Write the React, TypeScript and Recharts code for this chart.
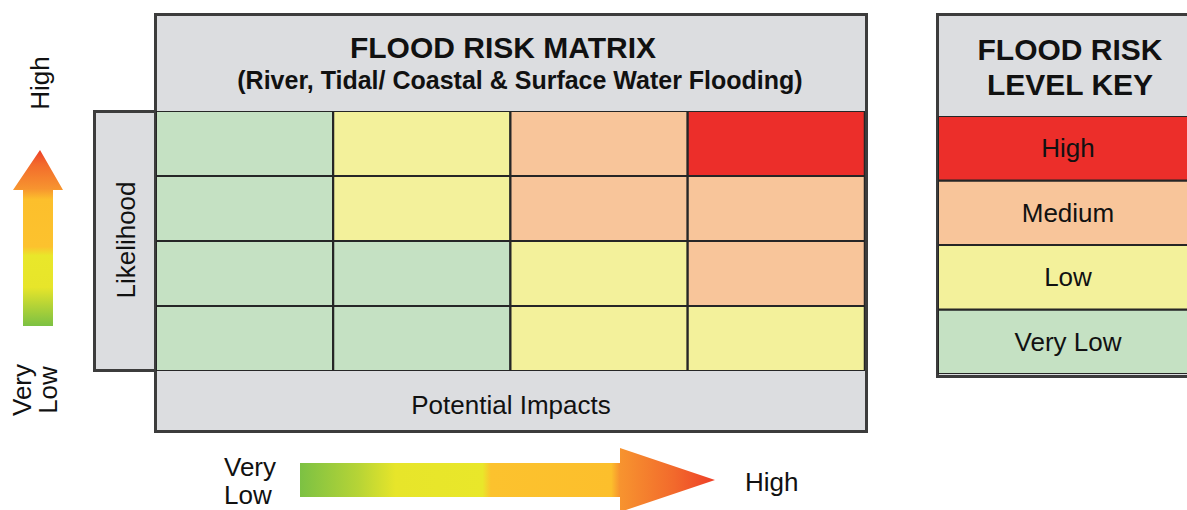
import React from 'react';
import { BarChart, Bar, Cell, XAxis, YAxis, LabelList } from 'recharts';

// impact columns (left -> right) and likelihood rows (bottom -> top)
const impacts = ['Very Low', 'Low', 'Medium', 'High'];
const likelihoods = ['Very Low', 'Low', 'Medium', 'High'];

// risk level per likelihood row, listed bottom row first
const riskVeryLowLikelihood = ['Very Low', 'Very Low', 'Low', 'Low'];
const riskLowLikelihood = ['Very Low', 'Very Low', 'Low', 'Medium'];
const riskMediumLikelihood = ['Very Low', 'Low', 'Medium', 'Medium'];
const riskHighLikelihood = ['Very Low', 'Low', 'Medium', 'High'];
const riskRows = [riskVeryLowLikelihood, riskLowLikelihood, riskMediumLikelihood, riskHighLikelihood];

const keyLevels = ['High', 'Medium', 'Low', 'Very Low'];

const levelColors: Record<string, string> = {
  High: '#ec2e2a',
  Medium: '#f8c59a',
  Low: '#f3f19b',
  'Very Low': '#c5e1c3',
};

const matrixData = impacts.map((impact) => {
  const row: Record<string, string | number> = { impact };
  likelihoods.forEach((l) => {
    row[l] = 1;
  });
  return row;
});

const keyData = [
  keyLevels.reduce((acc, l) => ({ ...acc, [l]: 1 }), { name: 'key' } as Record<string, string | number>),
];

const FONT = '"Liberation Sans", Arial, sans-serif';
const GREY = '#dcdde0';
const EDGE = '#3c3c3c';

function VArrow() {
  return (
    <svg width={80} height={200} style={{ position: 'absolute', left: 0, top: 145 }}>
      <defs>
        <linearGradient id="vgrad" x1="0" y1="1" x2="0" y2="0">
          <stop offset="0%" stopColor="#7cc143" />
          <stop offset="12%" stopColor="#b6d436" />
          <stop offset="22%" stopColor="#e7e52a" />
          <stop offset="40%" stopColor="#e9e72a" />
          <stop offset="45%" stopColor="#fcc22e" />
          <stop offset="72%" stopColor="#fcbf2c" />
          <stop offset="78%" stopColor="#f7942f" />
          <stop offset="92%" stopColor="#f26a2c" />
          <stop offset="100%" stopColor="#ee3f27" />
        </linearGradient>
      </defs>
      <polygon points="40,5 63,45 53,45 53,181 23,181 23,45 13,45" fill="url(#vgrad)" />
    </svg>
  );
}

function HArrow() {
  return (
    <svg width={440} height={80} style={{ position: 'absolute', left: 290, top: 440 }}>
      <defs>
        <linearGradient id="hgrad" x1="0" y1="0" x2="1" y2="0">
          <stop offset="0%" stopColor="#7cc143" />
          <stop offset="14%" stopColor="#b6d436" />
          <stop offset="23%" stopColor="#e7e52a" />
          <stop offset="44%" stopColor="#e9e72a" />
          <stop offset="46%" stopColor="#fcc22e" />
          <stop offset="75%" stopColor="#fcbf2c" />
          <stop offset="77%" stopColor="#f7942f" />
          <stop offset="90%" stopColor="#f26a2c" />
          <stop offset="100%" stopColor="#ee3f27" />
        </linearGradient>
      </defs>
      <polygon points="10,23 330,23 330,8 425,40 330,72 330,57 10,57" fill="url(#hgrad)" />
    </svg>
  );
}

export default function App() {
  return (
    <div
      style={{
        position: 'absolute',
        left: 0,
        top: 0,
        width: 1187,
        height: 510,
        overflow: 'hidden',
        background: '#fff',
        fontFamily: FONT,
        color: '#111',
      }}
    >
      {/* vertical axis cue */}
      <div
        style={{
          position: 'absolute',
          left: 40,
          top: 83,
          transform: 'translate(-50%, -50%) rotate(-90deg)',
          fontSize: 26,
        }}
      >
        High
      </div>
      <VArrow />
      <div
        style={{
          position: 'absolute',
          left: 35,
          top: 390,
          transform: 'translate(-50%, -50%) rotate(-90deg)',
          fontSize: 26,
          lineHeight: '26px',
          textAlign: 'center',
        }}
      >
        Very
        <br />
        Low
      </div>

      {/* main matrix frame */}
      <div
        style={{
          position: 'absolute',
          left: 154,
          top: 13,
          width: 708,
          height: 414,
          border: `3px solid ${EDGE}`,
          background: GREY,
        }}
      >
        <div style={{ position: 'absolute', left: -16, right: 0, top: 15, textAlign: 'center', fontSize: 30, fontWeight: 700, lineHeight: '34px' }}>
          FLOOD RISK MATRIX
        </div>
        <div style={{ position: 'absolute', left: 18, right: 0, top: 50, textAlign: 'center', fontSize: 25, fontWeight: 700, lineHeight: '29px' }}>
          (River, Tidal/ Coastal &amp; Surface Water Flooding)
        </div>
        <div style={{ position: 'absolute', left: 0, right: 0, top: 374, textAlign: 'center', fontSize: 26, lineHeight: '30px' }}>
          Potential Impacts
        </div>
      </div>

      {/* likelihood side box */}
      <div
        style={{
          position: 'absolute',
          left: 93,
          top: 110,
          width: 58,
          height: 256,
          border: `3px solid ${EDGE}`,
          background: GREY,
        }}
      >
        <div
          style={{
            position: 'absolute',
            left: 30,
            top: 127,
            transform: 'translate(-50%, -50%) rotate(-90deg)',
            fontSize: 26,
            lineHeight: '30px',
          }}
        >
          Likelihood
        </div>
      </div>

      {/* risk cells */}
      <div style={{ position: 'absolute', left: 156, top: 111 }}>
        <BarChart
          width={709}
          height={260}
          data={matrixData}
          margin={{ top: 0, right: 0, bottom: 0, left: 0 }}
          barCategoryGap={0}
        >
          <XAxis dataKey="impact" hide />
          <YAxis hide domain={[0, 4]} />
          {likelihoods.map((l, li) => (
            <Bar key={l} dataKey={l} stackId="m" isAnimationActive={false}>
              {impacts.map((imp, ci) => (
                <Cell
                  key={imp}
                  fill={levelColors[riskRows[li][ci]]}
                  stroke="#262626"
                  strokeWidth={2}
                />
              ))}
            </Bar>
          ))}
        </BarChart>
      </div>

      {/* risk level key */}
      <div
        style={{
          position: 'absolute',
          left: 936,
          top: 13,
          width: 270,
          height: 359,
          border: `3px solid ${EDGE}`,
          background: GREY,
        }}
      >
        <div
          style={{
            position: 'absolute',
            left: 0,
            width: 262,
            top: 16,
            textAlign: 'center',
            fontSize: 30,
            fontWeight: 700,
            lineHeight: '35px',
          }}
        >
          FLOOD RISK
          <br />
          LEVEL KEY
        </div>
      </div>
      <div style={{ position: 'absolute', left: 938, top: 116 }}>
        <BarChart
          width={260}
          height={258}
          data={keyData}
          margin={{ top: 0, right: 0, bottom: 0, left: 0 }}
          barCategoryGap={0}
        >
          <XAxis dataKey="name" hide />
          <YAxis hide domain={[0, 4]} />
          {[...keyLevels].reverse().map((l) => (
            <Bar
              key={l}
              dataKey={l}
              stackId="k"
              fill={levelColors[l]}
              stroke="#262626"
              strokeWidth={2}
              isAnimationActive={false}
            >
              <LabelList
                dataKey={l}
                position="center"
                formatter={() => l}
                fill="#111"
                fontSize={26}
                fontFamily={FONT}
              />
            </Bar>
          ))}
        </BarChart>
      </div>

      {/* horizontal axis cue */}
      <div
        style={{
          position: 'absolute',
          left: 224,
          top: 453,
          fontSize: 26,
          lineHeight: '28px',
        }}
      >
        Very
        <br />
        Low
      </div>
      <HArrow />
      <div style={{ position: 'absolute', left: 745, top: 467, fontSize: 26, lineHeight: '30px' }}>High</div>
    </div>
  );
}
